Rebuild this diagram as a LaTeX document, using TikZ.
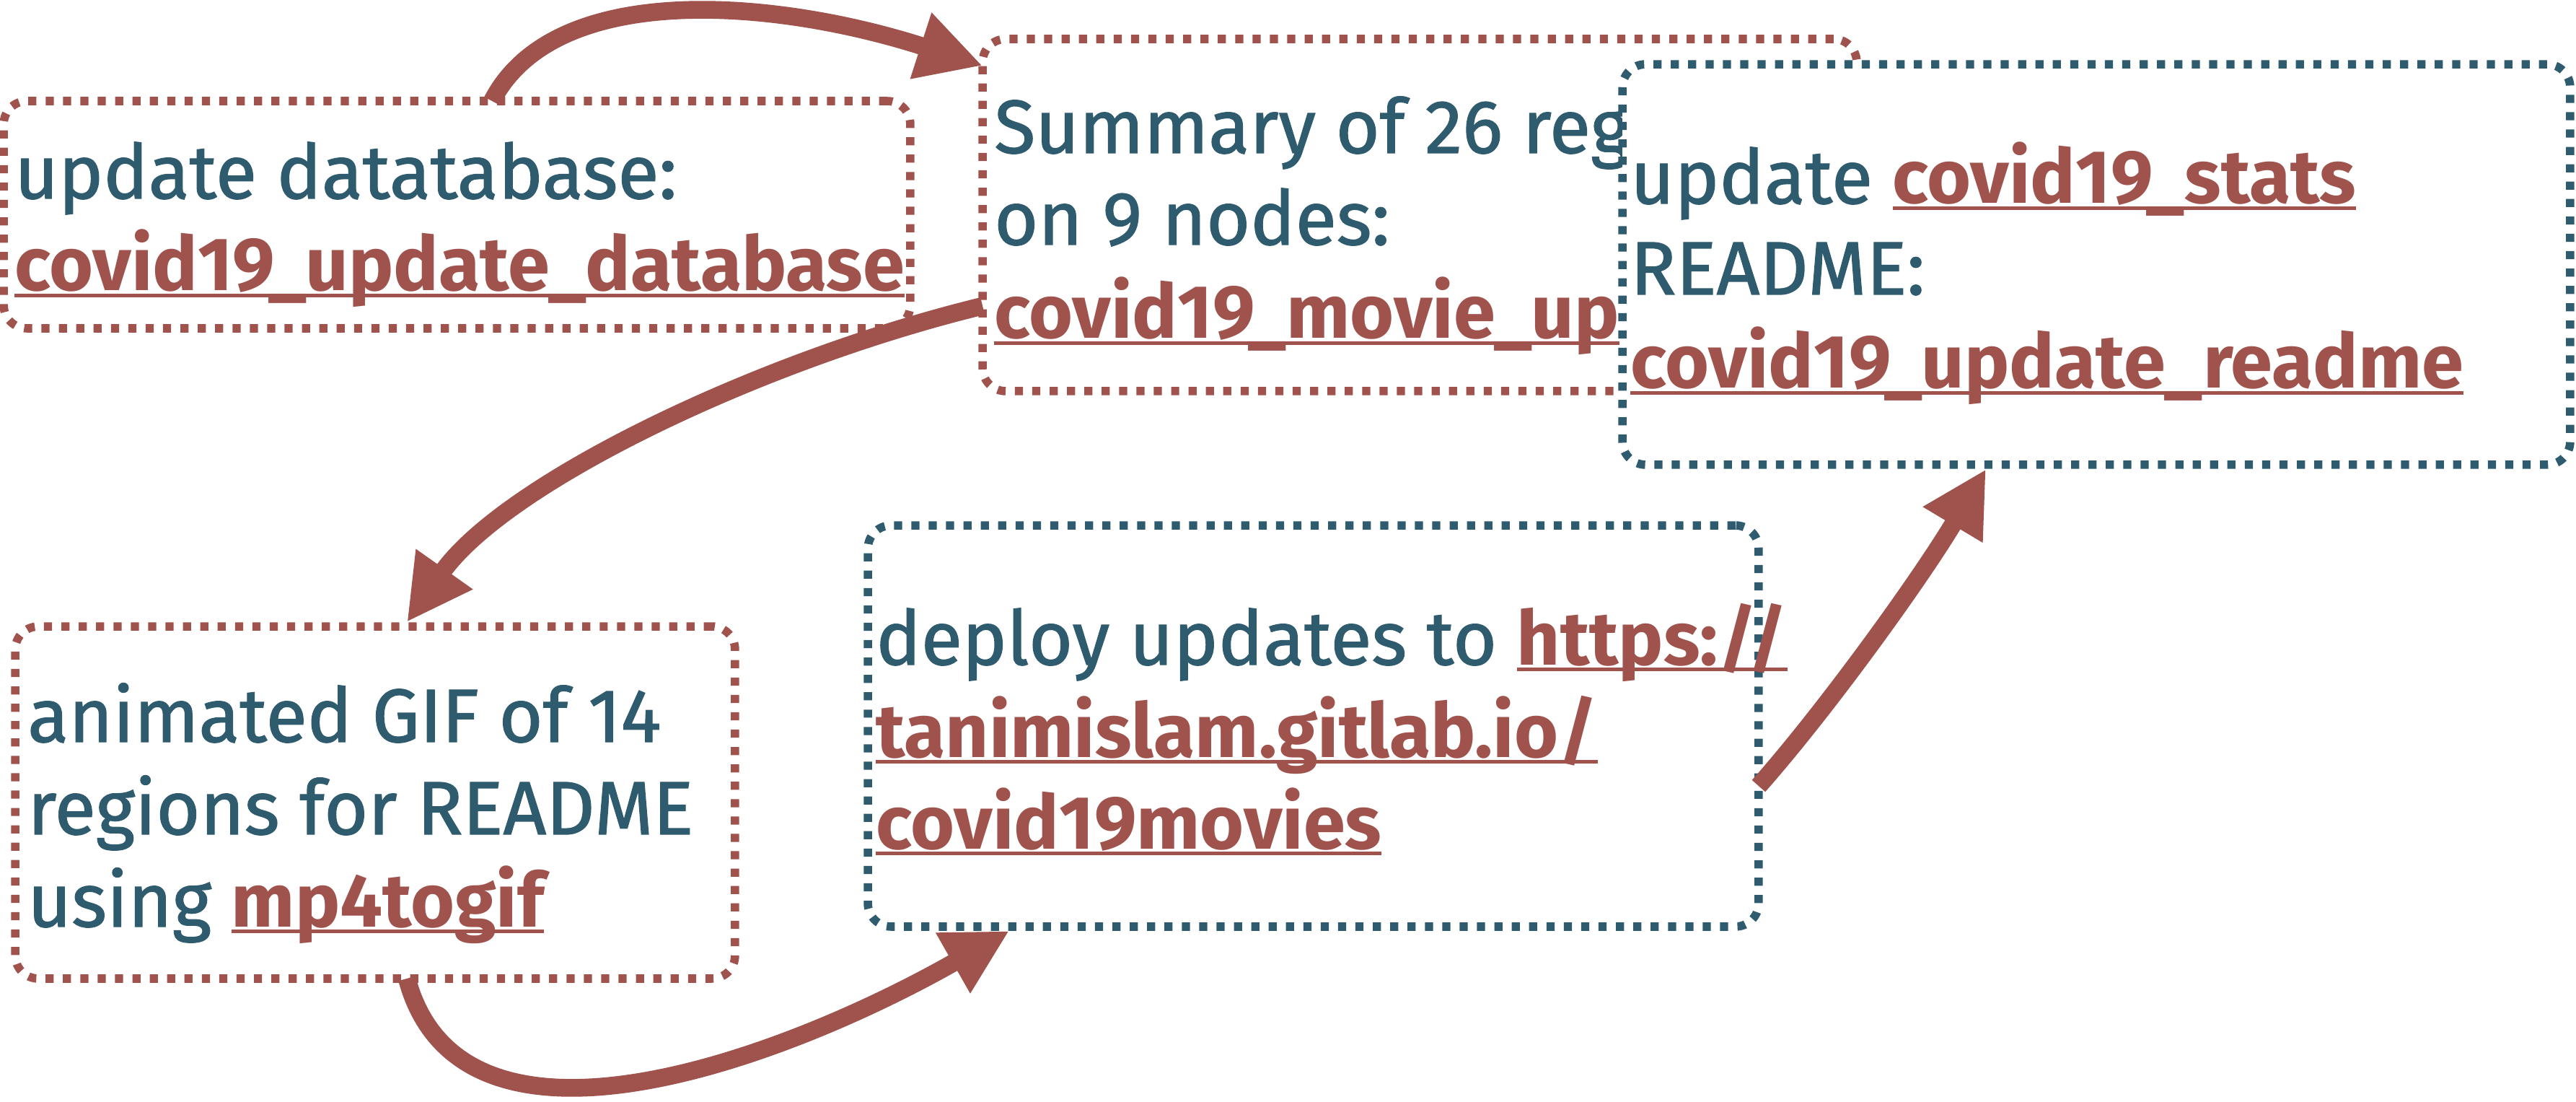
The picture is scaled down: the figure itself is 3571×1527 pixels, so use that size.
\documentclass[tikz,border=0pt]{standalone}
\usepackage{fontspec}
\setmainfont{Fira Sans}
\newfontfamily\medfont{Fira Sans}[UprightFeatures={FakeBold=1.2}]
\usetikzlibrary{arrows.meta,calc}
\definecolor{cblue}{HTML}{2F5B6F}
\definecolor{cred}{HTML}{A0524C}
\newsavebox\lnkbox
\newcommand\lnk[1]{{\normalfont\bfseries\color{cred}\sbox\lnkbox{#1}\rlap{\rule[-5.1pt]{\wd\lnkbox}{2.9pt}}\usebox\lnkbox}}
\begin{document}
\begin{tikzpicture}[x=0.02cm,y=-0.02cm,
  boxbase/.style={rectangle, rounded corners=0.64cm, line width=6.6pt,
    dash pattern=on 6.4pt off 7.3pt, inner sep=0pt, outer sep=0pt},
  redbox/.style={boxbase, draw=cred},
  bluebox/.style={boxbase, draw=cblue, fill=white},
  txt/.style={anchor=base west, inner sep=0pt, text=cblue,
    font=\medfont\fontsize{59.5pt}{72pt}\selectfont},
  arr/.style={draw=cred, line width=14pt, -{Triangle[length=1.8cm,width=1.8cm]}}]
\useasboundingbox (0,0) rectangle (3571,1527);

% box 1
\node[redbox, minimum width=25.14cm, minimum height=6.30cm] (b1) at (633.5,297.5) {};
\node[txt] (t1a) at (20,275) {update datatabase:};
\node[txt] (t1b) at (20,403) {\lnk{covid19\_update\_database}};

% box 2
\node[redbox, minimum width=24.24cm, minimum height=9.76cm] (b2) at (1968,298) {};
\node[txt] (t2a) at (1378,212) {Summary of 26 reg};
\node[txt] (t2b) at (1378,339) {on 9 nodes:};
\node[txt] (t2c) at (1378,469) {\lnk{covid19\_movie\_up}};

% box 3
\node[bluebox, minimum width=26.28cm, minimum height=11.10cm] (b3) at (2906,366.5) {};
\node[txt] (t3a) at (2260,282) {update \lnk{covid19\_stats}};
\node[txt] (t3b) at (2260,408) {README:};
\node[txt] (t3c) at (2260,538) {\lnk{covid19\_update\_readme}};

% box 4
\node[redbox, minimum width=19.96cm, minimum height=9.76cm] (b4) at (520,1112) {};
\node[txt] (t4a) at (38,1028) {animated GIF of 14};
\node[txt] (t4b) at (38,1156) {regions for README};
\node[txt] (t4c) at (38,1284) {using \lnk{mp4togif}};

% box 5
\node[bluebox, minimum width=24.70cm, minimum height=11.12cm] (b5) at (1820.5,1006) {};
\node[txt] (t5a) at (1214,921) {deploy updates to \lnk{https://}};
\node[txt] (t5b) at (1214,1049) {\lnk{tanimislam.gitlab.io/}};
\node[txt] (t5c) at (1214,1176) {\lnk{covid19movies}};

% connectors
\draw[arr] ($(b1.north west)+(677,0)$) .. controls (770,-30) and (1080,0) .. ($(b2.north west)+(0,37)$);
\draw[arr] ($(b2.north west)+(0,370)$) .. controls (1050,500) and (700,670) .. ($(b4.north west)+(543,-6)$);
\draw[arr] ($(b4.south west)+(543,0)$) .. controls (640,1640) and (1099,1461) .. ($(b5.south west)+(196,6)$);
\draw[arr] ($(b5.north east)+(0,361)$) .. controls (2530,985) and (2661,804) .. ($(b3.south west)+(504,6)$);
\end{tikzpicture}
\end{document}
